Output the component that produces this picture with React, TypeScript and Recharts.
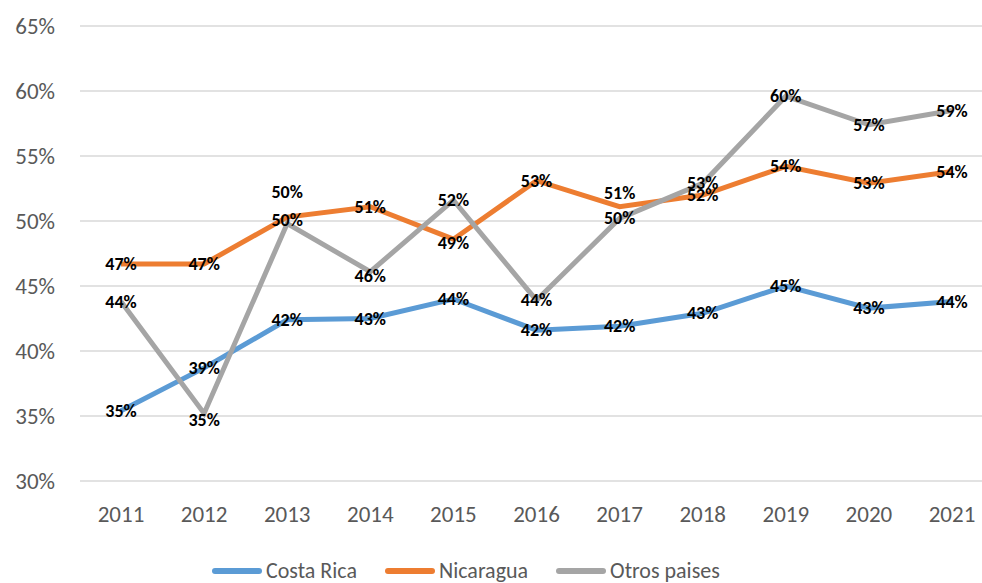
import { LineChart, Line, XAxis, YAxis, CartesianGrid, Legend, LabelList } from "recharts";

const years = ["2011", "2012", "2013", "2014", "2015", "2016", "2017", "2018", "2019", "2020", "2021"];
const costaRica = [35.4, 38.7, 42.4, 42.5, 44.0, 41.6, 41.9, 42.9, 45.0, 43.3, 43.8];
const nicaragua = [46.7, 46.7, 50.3, 51.1, 48.6, 53.1, 51.1, 52.0, 54.2, 52.9, 53.8];
const otros = [43.8, 35.2, 49.8, 46.1, 51.6, 43.9, 50.2, 52.9, 59.6, 57.4, 58.5];
const yTicks = [30, 35, 40, 45, 50, 55, 60, 65];

const seriesNames = ["Costa Rica", "Nicaragua", "Otros paises"];
const colors = ["#5B9BD5", "#ED7D31", "#A5A5A5"];

const data = years.map((year, i) => ({
    year,
    costaRica: costaRica[i],
    nicaragua: nicaragua[i],
    otros: otros[i],
}));

const FONT = "Carlito, Lato, 'Open Sans', sans-serif";

// small vertical nudges for labels that Excel moved off the point
const labelShift: Record<string, Record<number, number>> = {
    costaRica: {},
    nicaragua: { 2: 3, 4: 4, 6: -14 },
    otros: { 1: 7, 2: -32, 3: 4 },
};

const makeLabel = (key: string) => (props: any) => {
    const { x, y, value, index } = props;
    const dy = labelShift[key][index] || 0;
    return (
        <text
            x={x}
            y={y + dy}
            textAnchor="middle"
            dominantBaseline="central"
            fontFamily={FONT}
            fontWeight="bold"
            fontSize={18}
            fill="#000"
        >
            {Math.round(value)}%
        </text>
    );
};

const LegendContent = () => (
    <div style={{ display: "flex", alignItems: "center", paddingLeft: 212, fontFamily: FONT, fontSize: 22, color: "#595959" }}>
        {seriesNames.map((name, i) => (
            <div key={name} style={{ display: "flex", alignItems: "center", marginRight: 28 }}>
                <span style={{ display: "inline-block", width: 50, height: 6, borderRadius: 3, background: colors[i], marginRight: 4 }} />
                <span>{name}</span>
            </div>
        ))}
    </div>
);

const App = () => {
    return (
        <div style={{ position: "absolute", left: 0, top: 0, width: 982, height: 583, overflow: "hidden", background: "#fff" }}>
            <LineChart
                width={993}
                height={583}
                data={data}
                margin={{ top: 26, right: 0, left: 0, bottom: 22 }}
            >
                <CartesianGrid vertical={false} stroke="#d9d9d9" strokeWidth={1.5} />
                <XAxis
                    dataKey="year"
                    axisLine={false}
                    tickLine={false}
                    height={50}
                    tickSize={0}
                    tickMargin={25}
                    padding={{ left: 41, right: 41 }}
                    tick={{ fill: "#595959", fontSize: 23, fontFamily: FONT }}
                />
                <YAxis
                    domain={[30, 65]}
                    ticks={yTicks}
                    width={80}
                    axisLine={false}
                    tickLine={false}
                    tickSize={0}
                    tickMargin={25}
                    tickFormatter={(v) => `${v}%`}
                    tick={{ fill: "#595959", fontSize: 23, fontFamily: FONT }}
                />
                <Legend
                    verticalAlign="bottom"
                    content={<LegendContent />}
                    wrapperStyle={{ top: 557, left: 0, width: 982, height: 30 }}
                />
                <Line dataKey="costaRica" name="Costa Rica" stroke={colors[0]} strokeWidth={5} dot={false} isAnimationActive={false}>
                    <LabelList dataKey="costaRica" content={makeLabel("costaRica")} />
                </Line>
                <Line dataKey="nicaragua" name="Nicaragua" stroke={colors[1]} strokeWidth={5} dot={false} isAnimationActive={false}>
                    <LabelList dataKey="nicaragua" content={makeLabel("nicaragua")} />
                </Line>
                <Line dataKey="otros" name="Otros paises" stroke={colors[2]} strokeWidth={5} dot={false} isAnimationActive={false}>
                    <LabelList dataKey="otros" content={makeLabel("otros")} />
                </Line>
            </LineChart>
        </div>
    );
};

export default App;
